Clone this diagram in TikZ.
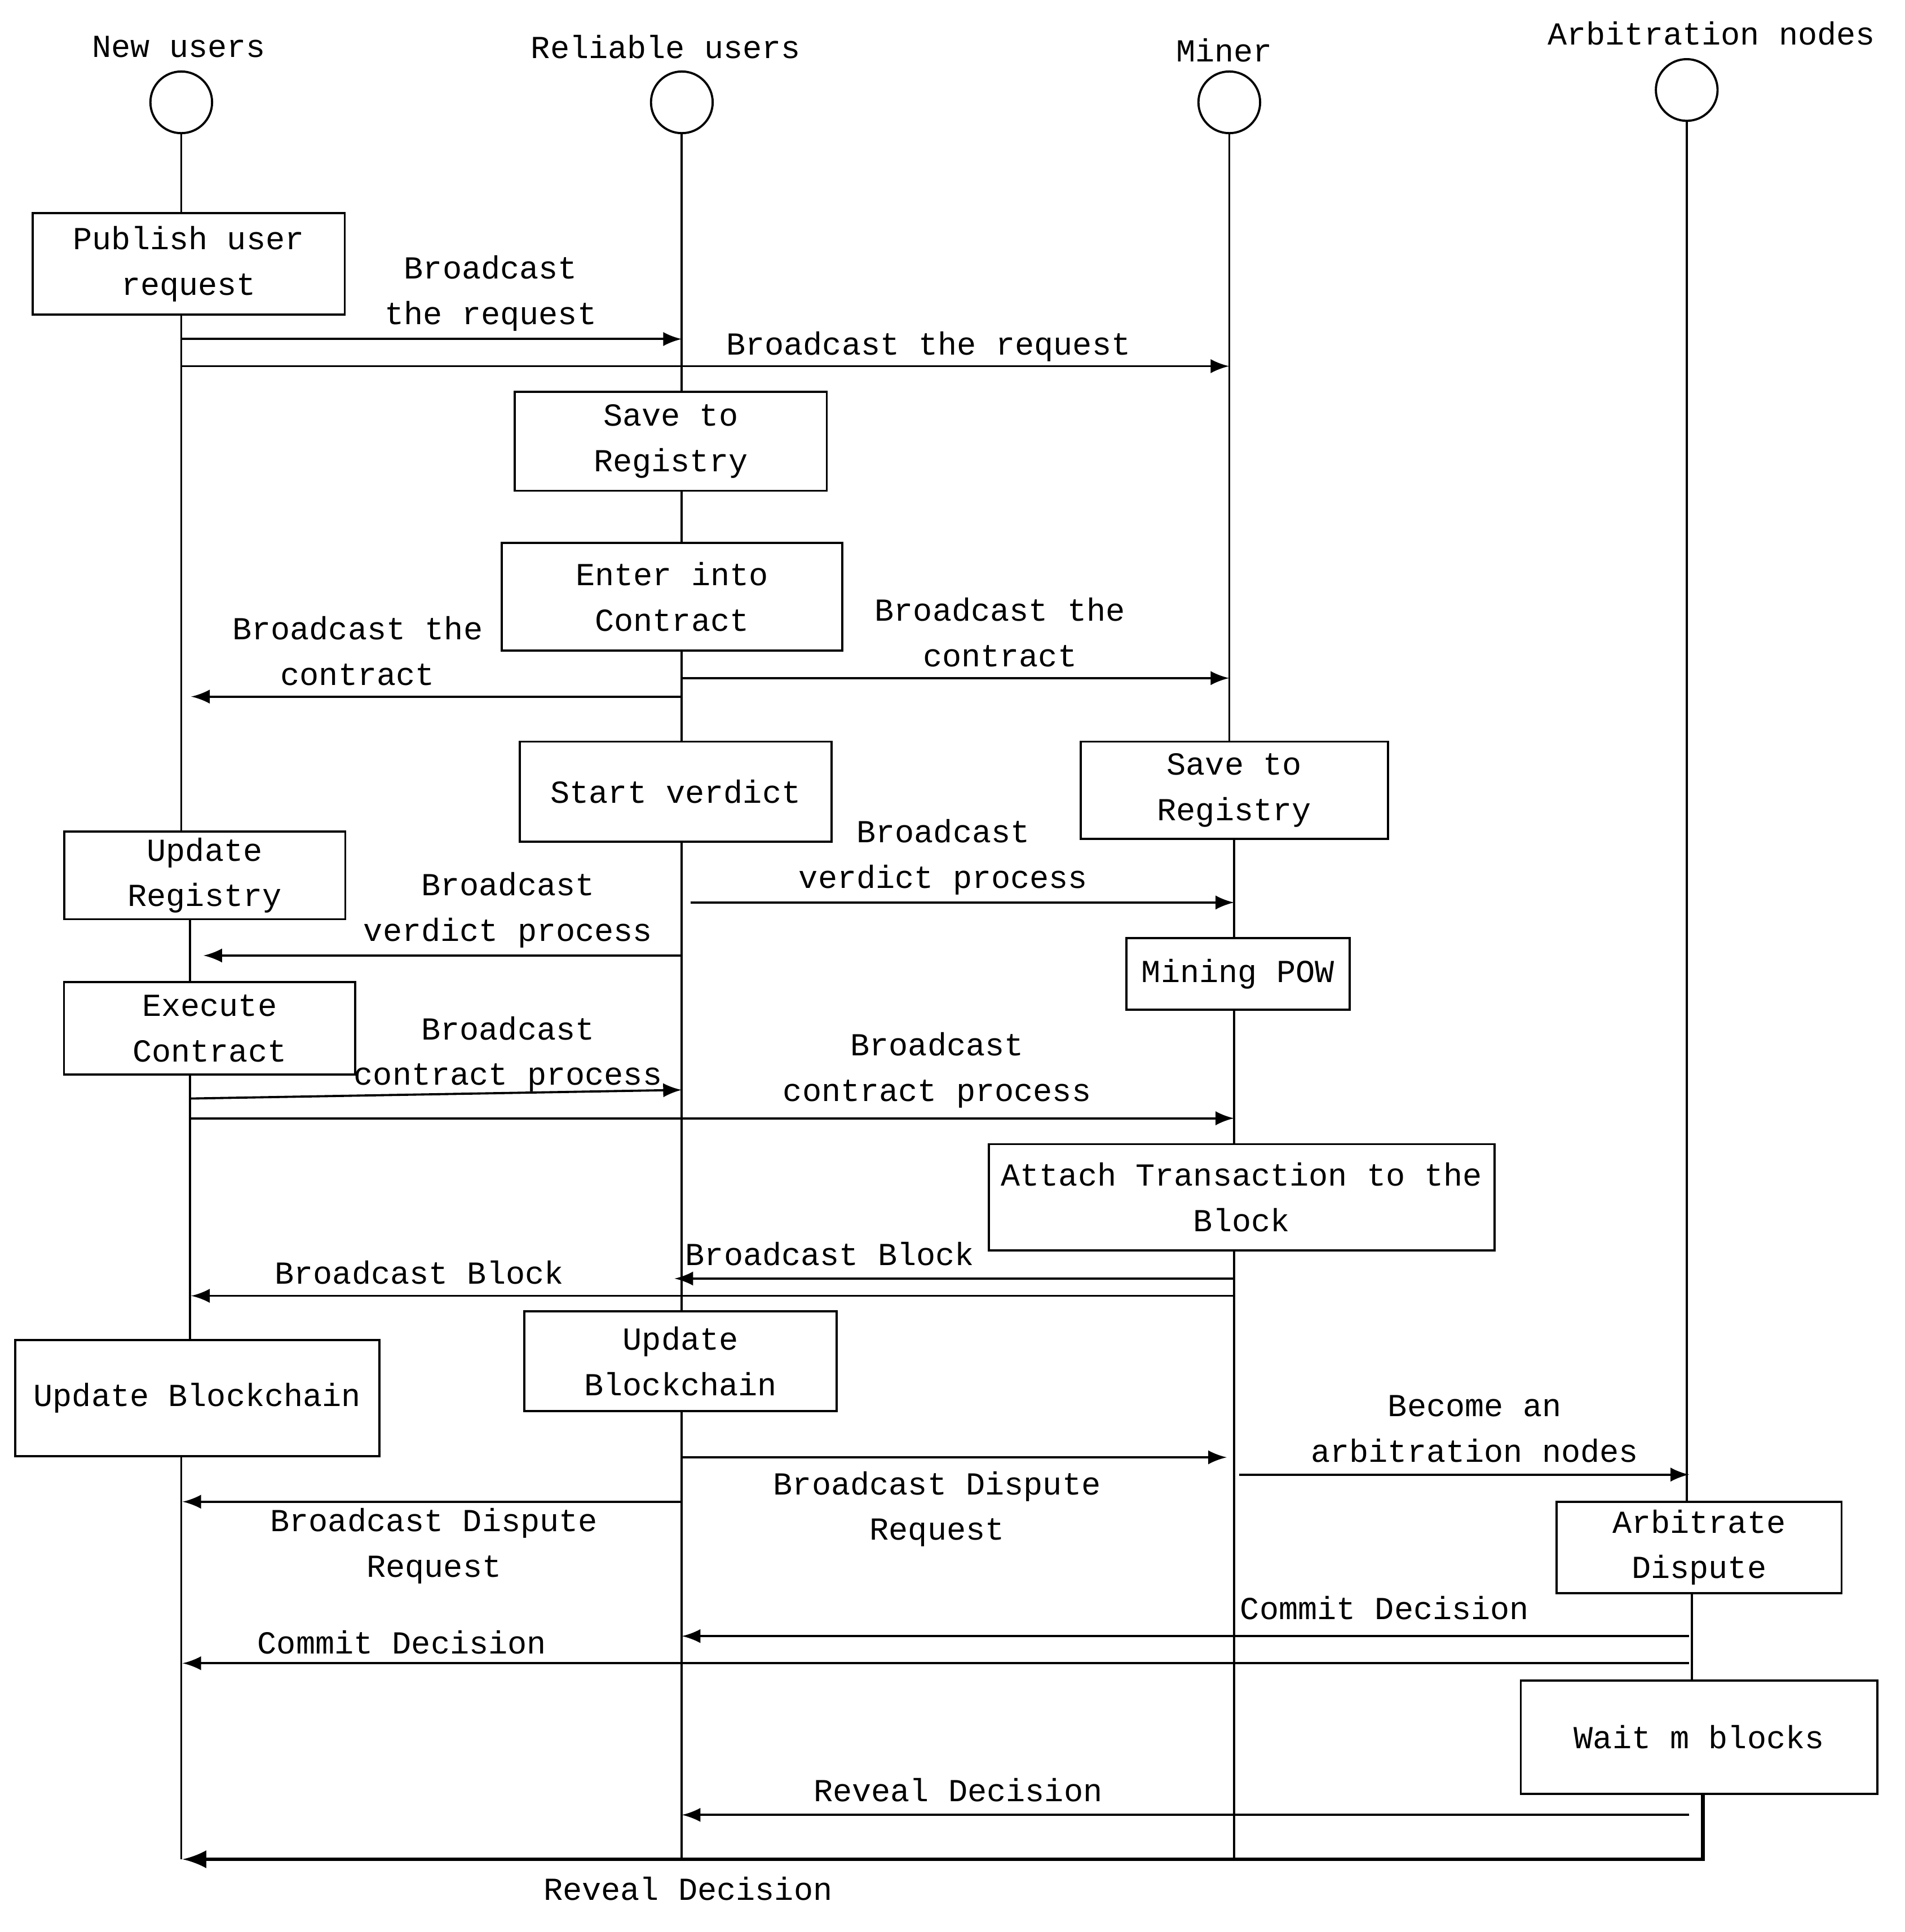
\documentclass[tikz,border=0pt]{standalone}
\usepackage{fontspec}
\setmainfont{Liberation Mono}
\begin{document}
\begin{tikzpicture}[x=0.01cm, y=-0.01cm, line width=0.5pt,
        actor/.style={circle, draw, minimum size=0.5cm, inner sep=0pt},
        head/.style={font=\fontsize{7.4}{10.5}\selectfont},
        box/.style={draw, fill=white, align=center, inner sep=1pt, font=\fontsize{7.4}{10.5}\selectfont},
        msg/.style={align=center, font=\fontsize{7.4}{10.5}\selectfont},
        call/.style={-latex}
    ]
    \useasboundingbox (0,0) rectangle (1545,1567);

    % Teilnehmer
    \node[head] at (145,38) {New users};
    \node[head] at (540,38) {Reliable users};
    \node[head] at (993,41) {Miner};
    \node[head] at (1388,27) {Arbitration nodes};
    \node[actor] (nu) at (147,83) {};
    \node[actor] (ru) at (553,83) {};
    \node[actor] (mi) at (997,83) {};
    \node[actor] (an) at (1368,73) {};

    % Lebenslinien
    \draw (nu.south) -- (147,255) -- (147,675);
    \draw (154,746) -- (154,1087);
    \draw (147,1181) -- (147,1508);
    \draw (ru.south) -- (553,1508);
    \draw (mi.south) -- (997,602);
    \draw (1001,681) -- (1001,1508);
    \draw (an.south) -- (1368,1218);
    \draw (1372,1292) -- (1372,1363);

    % Kaestchen
    \node[box, minimum width=2.53cm, minimum height=0.82cm] (pub) at (153,214) {Publish user\\request};
    \node[box, minimum width=2.53cm, minimum height=0.80cm] (sr1) at (544,358) {Save to\\Registry};
    \node[box, minimum width=2.76cm, minimum height=0.87cm] (eic) at (545,484) {Enter into\\Contract};
    \node[box, minimum width=2.53cm, minimum height=0.81cm] (stv) at (548,642) {Start verdict};
    \node[box, minimum width=2.49cm, minimum height=0.79cm] (sr2) at (1001,641) {Save to\\Registry};
    \node[box, minimum width=2.28cm, minimum height=0.71cm] (upr) at (166,710) {Update\\Registry};
    \node[box, minimum width=1.81cm, minimum height=0.58cm] (pow) at (1004,790) {Mining POW};
    \node[box, minimum width=2.36cm, minimum height=0.75cm] (exc) at (170,834) {Execute\\Contract};
    \node[box, minimum width=4.10cm, minimum height=0.86cm] (att) at (1007,971) {Attach Transaction to the\\Block};
    \node[box, minimum width=2.95cm, minimum height=0.94cm] (ub1) at (160,1134) {Update Blockchain};
    \node[box, minimum width=2.53cm, minimum height=0.81cm] (ub2) at (552,1104) {Update\\Blockchain};
    \node[box, minimum width=2.31cm, minimum height=0.74cm] (arb) at (1378,1255) {Arbitrate\\Dispute};
    \node[box, minimum width=2.89cm, minimum height=0.92cm] (wmb) at (1378,1409) {Wait m blocks};

    % Endpunkte
    \coordinate (a1s) at (147,275);  \coordinate (a1e) at (553,275);
    \coordinate (a2s) at (147,297);  \coordinate (a2e) at (997,297);
    \coordinate (a3s) at (553,565);  \coordinate (a3e) at (155,565);
    \coordinate (a4s) at (553,550);  \coordinate (a4e) at (997,550);
    \coordinate (a5s) at (560,732);  \coordinate (a5e) at (1001,732);
    \coordinate (a6s) at (553,775);  \coordinate (a6e) at (165,775);
    \coordinate (a7s) at (154,891);  \coordinate (a7e) at (553,884);
    \coordinate (a8s) at (154,907);  \coordinate (a8e) at (1001,907);
    \coordinate (a9s) at (1001,1037); \coordinate (a9e) at (547,1037);
    \coordinate (b1s) at (1001,1051); \coordinate (b1e) at (155,1051);
    \coordinate (b2s) at (553,1182); \coordinate (b2e) at (995,1182);
    \coordinate (b3s) at (1005,1196); \coordinate (b3e) at (1370,1196);
    \coordinate (b4s) at (553,1218); \coordinate (b4e) at (148,1218);
    \coordinate (b5s) at (1370,1327); \coordinate (b5e) at (553,1327);
    \coordinate (b6s) at (1370,1349); \coordinate (b6e) at (148,1349);
    \coordinate (b7s) at (1370,1472); \coordinate (b7e) at (553,1472);
    \coordinate (b8s) at (1381,1455); \coordinate (b8e) at (148,1508);

    % Nachrichten
    \draw[call] (a1s) -- (a1e); \node[msg] at (398,238) {Broadcast\\the request};
    \draw[call] (a2s) -- (a2e); \node[msg] at (753,281) {Broadcast the request};
    \draw[call] (a3s) -- (a3e); \node[msg] at (290,528) {Broadcast the\\contract};
    \draw[call] (a4s) -- (a4e); \node[msg] at (811,513) {Broadcast the\\contract};
    \draw[call] (a5s) -- (a5e); \node[msg] at (765,695) {Broadcast\\verdict process};
    \draw[call] (a6s) -- (a6e); \node[msg] at (412,738) {Broadcast\\verdict process};
    \draw[call] (a7s) -- (a7e); \node[msg] at (412,855) {Broadcast\\contract process};
    \draw[call] (a8s) -- (a8e); \node[msg] at (760,868) {Broadcast\\contract process};
    \draw[call] (a9s) -- (a9e); \node[msg] at (673,1017) {Broadcast Block};
    \draw[call] (b1s) -- (b1e); \node[msg] at (340,1032) {Broadcast Block};
    \draw[call] (b2s) -- (b2e); \node[msg] at (760,1224) {Broadcast Dispute\\Request};
    \draw[call] (b3s) -- (b3e); \node[msg] at (1196,1159) {Become an\\arbitration nodes};
    \draw[call] (b4s) -- (b4e); \node[msg] at (352,1254) {Broadcast Dispute\\Request};
    \draw[call] (b5s) -- (b5e); \node[msg] at (1123,1304) {Commit Decision};
    \draw[call] (b6s) -- (b6e); \node[msg] at (326,1332) {Commit Decision};
    \draw[call] (b7s) -- (b7e); \node[msg] at (777,1452) {Reveal Decision};
    \draw[-latex, line width=0.9pt] (b8s) |- (b8e); \node[msg] at (558,1532) {Reveal Decision};
\end{tikzpicture}
\end{document}
